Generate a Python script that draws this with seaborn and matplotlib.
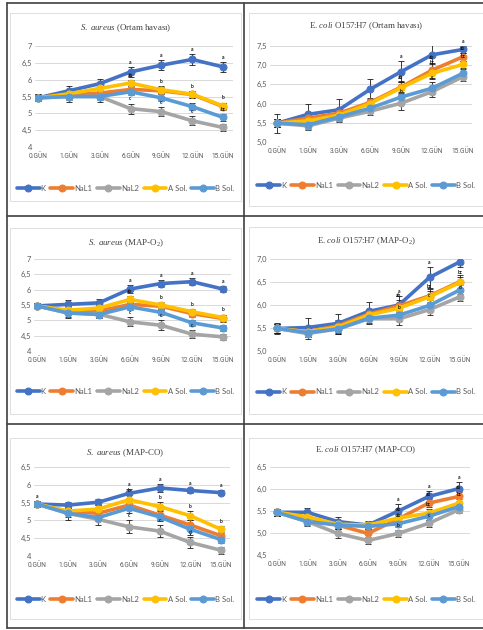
import matplotlib
matplotlib.use("Agg")
import matplotlib.pyplot as plt
from matplotlib.lines import Line2D
from matplotlib.patches import Rectangle
import seaborn as sns

# ── DATA ─────────────────────────────────────────────────
DAYS = ["0.GÜN", "1.GÜN", "3.GÜN", "6.GÜN", "9.GÜN", "12.GÜN", "15.GÜN"]
SERIES = ["K", "NaL1", "NaL2", "A Sol.", "B Sol."]
COLOURS = ["#4472C4", "#ED7D31", "#A5A5A5", "#FFC000", "#5B9BD5"]

# S. aureus – Ortam havası
sa_air = {
    "K":      [5.46, 5.67, 5.88, 6.23, 6.43, 6.60, 6.38],
    "NaL1":   [5.46, 5.55, 5.60, 5.71, 5.67, 5.56, 5.20],
    "NaL2":   [5.46, 5.50, 5.50, 5.14, 5.05, 4.78, 4.58],
    "A Sol.": [5.46, 5.58, 5.74, 5.90, 5.70, 5.57, 5.22],
    "B Sol.": [5.46, 5.50, 5.50, 5.64, 5.46, 5.20, 4.88],
}
sa_air_err = {
    "K":      [0.10, 0.14, 0.15, 0.15, 0.15, 0.15, 0.15],
    "NaL1":   [0.08, 0.10, 0.10, 0.10, 0.10, 0.10, 0.10],
    "NaL2":   [0.10, 0.15, 0.15, 0.15, 0.13, 0.13, 0.10],
    "A Sol.": [0.08, 0.10, 0.10, 0.10, 0.10, 0.10, 0.10],
    "B Sol.": [0.08, 0.10, 0.10, 0.10, 0.10, 0.10, 0.10],
}
sa_air_letters = [("K", 3, "a"), ("K", 4, "a"), ("K", 5, "a"), ("K", 6, "a"),
                  ("A Sol.", 3, "ab"), ("A Sol.", 4, "b"), ("A Sol.", 5, "b"),
                  ("A Sol.", 6, "b"), ("NaL2", 3, "c"), ("NaL2", 4, "c"),
                  ("NaL2", 5, "c"), ("B Sol.", 6, "bc")]

# E. coli O157:H7 – Ortam havası
ec_air = {
    "K":      [5.49, 5.72, 5.84, 6.37, 6.83, 7.27, 7.41],
    "NaL1":   [5.49, 5.62, 5.75, 6.03, 6.43, 6.87, 7.22],
    "NaL2":   [5.49, 5.42, 5.62, 5.80, 6.01, 6.31, 6.70],
    "A Sol.": [5.49, 5.55, 5.70, 6.00, 6.41, 6.79, 7.02],
    "B Sol.": [5.49, 5.45, 5.65, 5.88, 6.17, 6.40, 6.79],
}
ec_air_err = {
    "K":      [0.25, 0.28, 0.28, 0.27, 0.27, 0.25, 0.10],
    "NaL1":   [0.10, 0.12, 0.12, 0.12, 0.15, 0.20, 0.10],
    "NaL2":   [0.10, 0.12, 0.10, 0.10, 0.18, 0.15, 0.10],
    "A Sol.": [0.10, 0.10, 0.10, 0.12, 0.15, 0.15, 0.10],
    "B Sol.": [0.10, 0.10, 0.10, 0.10, 0.12, 0.15, 0.10],
}
ec_air_letters = [("K", 4, "a"), ("K", 5, "a"), ("K", 6, "a"), ("NaL1", 6, "ab"),
                  ("A Sol.", 6, "bc"), ("A Sol.", 4, "ab"), ("NaL1", 5, "ab"),
                  ("A Sol.", 5, "bc"), ("NaL2", 4, "b"), ("B Sol.", 5, "c")]

# S. aureus – MAP-O2
sa_o2 = {
    "K":      [5.47, 5.52, 5.57, 6.02, 6.20, 6.26, 6.02],
    "NaL1":   [5.47, 5.30, 5.30, 5.52, 5.46, 5.22, 5.06],
    "NaL2":   [5.47, 5.24, 5.20, 4.95, 4.84, 4.55, 4.46],
    "A Sol.": [5.47, 5.33, 5.40, 5.68, 5.50, 5.28, 5.09],
    "B Sol.": [5.47, 5.24, 5.19, 5.44, 5.26, 4.92, 4.75],
}
sa_o2_err = {
    "K":      [0.08, 0.14, 0.14, 0.12, 0.12, 0.12, 0.10],
    "NaL1":   [0.08, 0.10, 0.10, 0.10, 0.10, 0.10, 0.10],
    "NaL2":   [0.08, 0.15, 0.12, 0.15, 0.16, 0.12, 0.10],
    "A Sol.": [0.08, 0.10, 0.10, 0.10, 0.10, 0.10, 0.10],
    "B Sol.": [0.08, 0.12, 0.10, 0.10, 0.10, 0.10, 0.10],
}
sa_o2_letters = [("K", 3, "a"), ("K", 4, "a"), ("K", 5, "a"), ("K", 6, "a"),
                 ("A Sol.", 3, "ab"), ("A Sol.", 4, "b"), ("A Sol.", 5, "b"),
                 ("A Sol.", 6, "b"), ("NaL2", 3, "c"), ("NaL2", 4, "c"),
                 ("NaL2", 5, "c")]

# E. coli O157:H7 – MAP-O2
ec_o2 = {
    "K":      [5.49, 5.51, 5.60, 5.86, 6.00, 6.60, 6.94],
    "NaL1":   [5.49, 5.42, 5.55, 5.80, 5.98, 6.20, 6.51],
    "NaL2":   [5.49, 5.38, 5.48, 5.70, 5.70, 5.90, 6.18],
    "A Sol.": [5.49, 5.42, 5.52, 5.78, 5.93, 6.18, 6.49],
    "B Sol.": [5.49, 5.40, 5.48, 5.71, 5.78, 5.99, 6.33],
}
ec_o2_err = {
    "K":      [0.12, 0.20, 0.20, 0.20, 0.20, 0.22, 0.12],
    "NaL1":   [0.10, 0.10, 0.12, 0.12, 0.12, 0.15, 0.15],
    "NaL2":   [0.10, 0.12, 0.10, 0.12, 0.14, 0.12, 0.10],
    "A Sol.": [0.10, 0.10, 0.10, 0.10, 0.12, 0.12, 0.12],
    "B Sol.": [0.10, 0.10, 0.10, 0.10, 0.12, 0.12, 0.10],
}
ec_o2_letters = [("K", 4, "a"), ("K", 5, "a"), ("K", 6, "a"), ("NaL1", 4, "ab"),
                 ("A Sol.", 5, "bc"), ("A Sol.", 6, "bc"), ("NaL2", 4, "b"),
                 ("B Sol.", 5, "c"), ("NaL2", 6, "d")]

# S. aureus – MAP-CO
sa_co = {
    "K":      [5.46, 5.43, 5.51, 5.76, 5.91, 5.84, 5.78],
    "NaL1":   [5.46, 5.25, 5.20, 5.43, 5.15, 4.87, 4.57],
    "NaL2":   [5.46, 5.20, 5.03, 4.82, 4.70, 4.38, 4.16],
    "A Sol.": [5.46, 5.26, 5.32, 5.58, 5.39, 5.13, 4.75],
    "B Sol.": [5.46, 5.20, 5.08, 5.34, 5.10, 4.75, 4.46],
}
sa_co_err = {
    "K":      [0.08, 0.08, 0.08, 0.12, 0.10, 0.08, 0.08],
    "NaL1":   [0.08, 0.10, 0.10, 0.15, 0.15, 0.15, 0.10],
    "NaL2":   [0.08, 0.18, 0.15, 0.18, 0.18, 0.16, 0.10],
    "A Sol.": [0.08, 0.10, 0.10, 0.12, 0.12, 0.12, 0.10],
    "B Sol.": [0.08, 0.10, 0.10, 0.12, 0.12, 0.15, 0.10],
}
sa_co_letters = [("K", 0, "a"), ("K", 3, "a"), ("K", 4, "a"), ("K", 5, "a"),
                 ("K", 6, "a"), ("A Sol.", 3, "b"), ("A Sol.", 4, "b"),
                 ("A Sol.", 5, "b"), ("A Sol.", 6, "b"), ("NaL2", 3, "c"),
                 ("NaL2", 4, "c"), ("NaL2", 5, "d")]

# E. coli O157:H7 – MAP-CO
ec_co = {
    "K":      [5.47, 5.47, 5.26, 5.18, 5.50, 5.83, 6.01],
    "NaL1":   [5.47, 5.35, 5.18, 4.99, 5.32, 5.68, 5.83],
    "NaL2":   [5.47, 5.26, 4.99, 4.83, 4.99, 5.22, 5.53],
    "A Sol.": [5.47, 5.37, 5.20, 5.18, 5.34, 5.45, 5.68],
    "B Sol.": [5.47, 5.26, 5.18, 5.15, 5.21, 5.38, 5.60],
}
ec_co_err = {
    "K":      [0.08, 0.10, 0.10, 0.10, 0.15, 0.12, 0.15],
    "NaL1":   [0.08, 0.10, 0.10, 0.10, 0.10, 0.10, 0.10],
    "NaL2":   [0.08, 0.10, 0.10, 0.08, 0.08, 0.08, 0.08],
    "A Sol.": [0.08, 0.08, 0.08, 0.08, 0.10, 0.10, 0.10],
    "B Sol.": [0.08, 0.08, 0.08, 0.08, 0.08, 0.08, 0.08],
}
ec_co_letters = [("K", 4, "a"), ("K", 5, "a"), ("K", 6, "a"), ("NaL1", 5, "ab"),
                 ("NaL1", 6, "ab"), ("A Sol.", 4, "ab"), ("A Sol.", 5, "bc"),
                 ("A Sol.", 6, "bc"), ("NaL2", 4, "b"), ("NaL2", 5, "c"),
                 ("B Sol.", 4, "ab")]

TITLES = [
    r"$\mathit{S.\ aureus}$ (Ortam havası)",
    r"E. $\mathit{coli}$ O157:H7 (Ortam havası)",
    r"$\mathit{S.\ aureus}$ (MAP-O$_2$)",
    r"E. $\mathit{coli}$ O157:H7 (MAP-O$_2$)",
    r"$\mathit{S.\ aureus}$ (MAP-CO)",
    r"E. $\mathit{coli}$ O157:H7 (MAP-CO)",
]

# ── LAYOUT (pixels) ──────────────────────────────────────
W, H = 483, 630
# first pt x, last pt x, grid left, grid right, y top, y bottom, ymin, ymax,
# one-decimal flag, title y, legend y
PANELS = [
    (38, 223, 35, 233, 46, 147, 4.0, 7.0, 0, 28, 188),
    (277, 463, 270, 472, 46, 142, 5.0, 7.5, 1, 26, 185),
    (37, 223, 34, 231, 259, 351, 4.0, 7.0, 0, 243, 391),
    (277, 460, 270, 472, 259, 351, 5.0, 7.0, 1, 241, 392),
    (37, 221, 34, 230, 467, 556, 4.0, 6.5, 0, 453, 599),
    (277, 459, 270, 470, 467, 555, 4.5, 6.5, 1, 450, 599),
]
BOXES = [(10, 13, 241, 201), (249, 13, 483, 206), (10, 228, 241, 414),
         (249, 227, 483, 414), (10, 438, 241, 619), (249, 438, 483, 619)]

sns.set_theme(style="white")
plt.rcParams.update({
    "font.family": ["Lato", "DejaVu Sans"],
    "mathtext.fontset": "custom",
    "mathtext.rm": "Liberation Serif",
    "mathtext.it": "Liberation Serif:italic",
    "legend.numpoints": 1,
})


def fmt_label(v, one_decimal):
    if one_decimal:
        return f"{v:.1f}".replace(".", ",")
    return f"{v:g}".replace(".", ",")


def draw_panel(fig, spec, box, title, data, err, letters):
    x0, x6, gl, gr, yt, yb, ymin, ymax, one_dec, ty, ly = spec
    upx = 6 / (x6 - x0)
    ax = fig.add_axes([gl / W, 1 - yb / H, (gr - gl) / W, (yb - yt) / H])
    xs = list(range(len(DAYS)))
    for name in SERIES:
        ax.errorbar(xs, data[name], yerr=err[name], fmt="none", ecolor="#1A1A1A",
                    elinewidth=0.6, capsize=2.2, capthick=0.6, zorder=2)
    for name, colour in zip(SERIES, COLOURS):
        sns.lineplot(x=xs, y=data[name], ax=ax, color=colour, lw=2.6, marker="o",
                     markersize=5, markeredgecolor=colour, zorder=3, label=name)
    for name, idx, txt in letters:
        ax.annotate(txt, (idx, data[name][idx] + err[name][idx]), xytext=(0, 1.5),
                    textcoords="offset points", ha="center", va="bottom",
                    fontsize=3.6, color="#1A1A1A", fontweight="bold", zorder=4)
    handles, labels = ax.get_legend_handles_labels()
    ax.get_legend().remove()

    ax.set_xlim(-(x0 - gl) * upx, 6 + (gr - x6) * upx)
    ax.set_ylim(ymin, ymax)
    ticks = [ymin + 0.5 * i for i in range(int(round((ymax - ymin) / 0.5)) + 1)]
    ax.set_yticks(ticks)
    ax.set_yticklabels([fmt_label(t, one_dec) for t in ticks])
    ax.set_xticks(xs)
    ax.set_xticklabels(DAYS, family="Roboto")
    ax.tick_params(axis="both", length=0, colors="#595959", pad=2)
    ax.tick_params(axis="y", labelsize=5.4)
    ax.tick_params(axis="x", labelsize=4.7, pad=4)
    ax.yaxis.grid(True, color="#D9D9D9", lw=0.7)
    for s in ax.spines.values():
        s.set_visible(False)
    ax.set_facecolor("none")

    cx = (box[0] + box[2]) / 2
    fig.text(cx / W, 1 - ty / H, title, ha="center", va="center",
             fontsize=6.4, color="#404040", family="Liberation Serif")
    fig.legend(handles, labels, loc="center", bbox_to_anchor=(cx / W, 1 - ly / H),
               ncol=5, frameon=False, fontsize=5.5, handlelength=3.0,
               handletextpad=0.15, columnspacing=0.6, labelcolor="#595959",
               borderaxespad=0)
    return ax


fig = plt.figure(figsize=(W / 100, H / 100), dpi=100)
fig.patch.set_facecolor("white")

for (l, t, r, b) in BOXES:
    fig.add_artist(Rectangle((l / W, 1 - b / H), (r - l) / W, (b - t) / H,
                             transform=fig.transFigure, fill=False,
                             edgecolor="#D9D9D9", lw=0.6))

datasets = [(sa_air, sa_air_err, sa_air_letters), (ec_air, ec_air_err, ec_air_letters),
            (sa_o2, sa_o2_err, sa_o2_letters), (ec_o2, ec_o2_err, ec_o2_letters),
            (sa_co, sa_co_err, sa_co_letters), (ec_co, ec_co_err, ec_co_letters)]
for spec, box, title, (d, e, lt) in zip(PANELS, BOXES, TITLES, datasets):
    draw_panel(fig, spec, box, title, d, e, lt)

# table borders
border = dict(color="#404040", lw=1.2, transform=fig.transFigure)
fig.add_artist(Line2D([7 / W, 7 / W], [1 - 3 / H, 1 - 628 / H], **border))
fig.add_artist(Line2D([244 / W, 244 / W], [1 - 3 / H, 1 - 628 / H], **border))
for yy in (3, 216, 424, 628):
    fig.add_artist(Line2D([7 / W, 1], [1 - yy / H, 1 - yy / H], **border))

fig.savefig("out.png", dpi=100, facecolor="white")
